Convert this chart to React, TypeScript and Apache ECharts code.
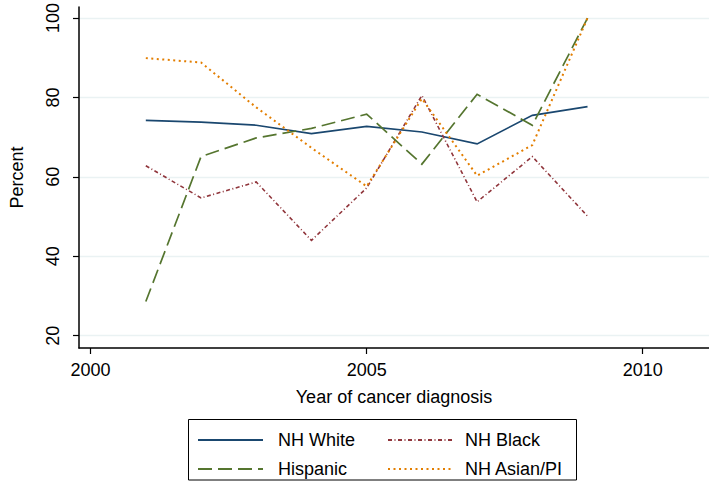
import React, { useEffect, useRef } from "react";
import * as echarts from "echarts";

const years = [2001, 2002, 2003, 2004, 2005, 2006, 2007, 2008, 2009];
const nhWhite = [74.2, 73.8, 73.0, 70.9, 72.7, 71.3, 68.3, 75.5, 77.7];
const nhBlack = [62.8, 54.7, 58.7, 44.0, 57.2, 80.5, 53.7, 65.1, 50.1];
const hispanic = [28.6, 65.1, 69.8, 72.2, 75.8, 63.2, 80.8, 73.0, 100];
const nhAsian = [89.9, 88.8, 77.5, 67.3, 57.6, 79.7, 60.3, 68.0, 100];

const xTicks = [2000, 2005, 2010];
const yTicks = [20, 40, 60, 80, 100];

const FONT = "'Liberation Sans', Arial, Helvetica, sans-serif";

export default function App() {
  const ref = useRef<HTMLDivElement>(null);
  useEffect(() => {
    const chart = echarts.init(ref.current!, null, { renderer: "svg" });
    const mk = (name: string, vals: number[], color: string, type: any, width: number) => ({
      name,
      type: "line",
      data: years.map((y, i) => [y, vals[i]]),
      symbol: "none",
      lineStyle: { color, width, type, cap: "butt", join: "miter" },
      itemStyle: { color },
    });
    const legendBase = {
      orient: "vertical",
      top: 431,
      padding: 0,
      itemWidth: 65,
      itemHeight: 14,
      itemGap: 11,
      itemStyle: { opacity: 0, borderWidth: 0 },
    };
    chart.setOption({
      animation: false,
      backgroundColor: "#fff",
      textStyle: { fontFamily: FONT },
      grid: { left: 62, right: 0, top: 4, bottom: 133, containLabel: false },
      xAxis: {
        type: "value",
        min: 1999.79,
        max: 2011.2,
        axisLine: { show: true, lineStyle: { color: "#000", width: 1.5 } },
        axisTick: { show: true, length: 6, customValues: xTicks, lineStyle: { color: "#000", width: 1.2 } },
        axisLabel: {
          customValues: xTicks,
          fontSize: 18,
          color: "#000",
          margin: 13,
          fontFamily: FONT,
          formatter: (v: number) => String(v),
        },
        splitLine: { show: false },
        name: "Year of cancer diagnosis",
        nameLocation: "middle",
        nameGap: 40,
        nameTextStyle: { fontSize: 18, color: "#000", fontFamily: FONT },
      },
      yAxis: {
        type: "value",
        min: 16.9,
        max: 102.8,
        axisLine: { show: true, lineStyle: { color: "#000", width: 1.5 } },
        axisTick: { show: true, length: 6, customValues: yTicks, lineStyle: { color: "#000", width: 1.2 } },
        axisLabel: {
          customValues: yTicks,
          fontSize: 18,
          color: "#000",
          margin: 17,
          rotate: 90,
          fontFamily: FONT,
          formatter: (v: number) => String(v),
        },
        splitLine: { show: true, lineStyle: { color: "#eaf2f3", width: 1.3 } },
        name: "Percent",
        nameLocation: "middle",
        nameGap: 53,
        nameTextStyle: { fontSize: 18, color: "#000", fontFamily: FONT },
      },
      legend: [
        {
          ...legendBase,
          data: ["NH White", "Hispanic"],
          left: 197,
          textStyle: { fontSize: 18, color: "#000", fontFamily: FONT, padding: [0, 0, 0, 10] },
        },
        {
          ...legendBase,
          data: ["NH Black", "NH Asian/PI"],
          left: 387,
          textStyle: { fontSize: 18, color: "#000", fontFamily: FONT, padding: [0, 0, 0, 7] },
        },
      ],
      graphic: [
        {
          type: "rect",
          shape: { x: 188.5, y: 419.5, width: 388, height: 60.5 },
          style: { fill: "none", stroke: "#000", lineWidth: 1 },
          silent: true,
        },
      ],
      series: [
        mk("NH White", nhWhite, "#1a476f", "solid", 1.7),
        mk("NH Black", nhBlack, "#90353b", [4, 2.5, 1, 2.5], 1.6),
        mk("Hispanic", hispanic, "#55752f", [14, 6], 1.7),
        mk("NH Asian/PI", nhAsian, "#e37e00", [2, 3.5], 2),
      ],
    });
    return () => chart.dispose();
  }, []);
  return <div ref={ref} style={{ position: "absolute", left: 0, top: 0, width: 709, height: 481 }} />;
}
